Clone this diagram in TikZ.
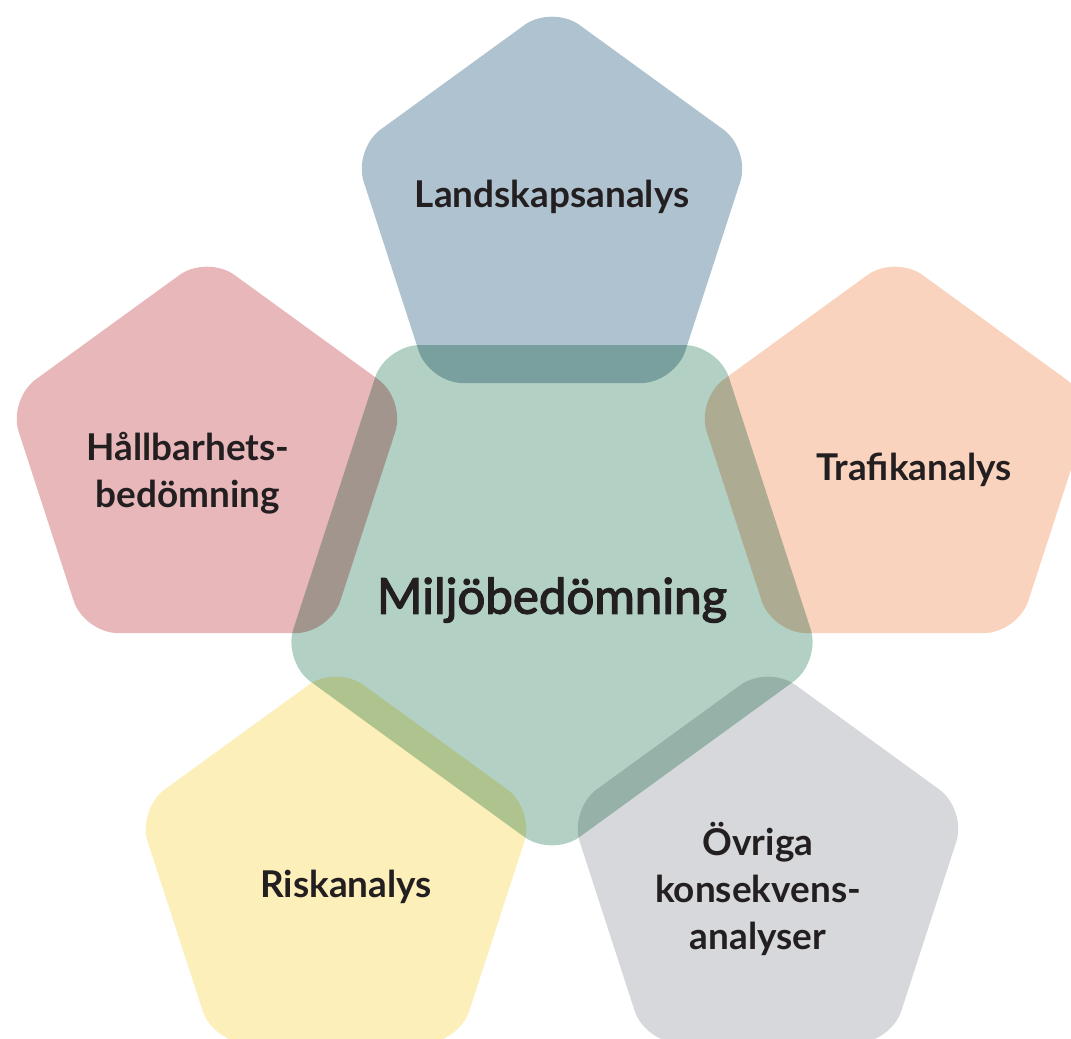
\documentclass[tikz,border=0pt]{standalone}
\usepackage{fontspec}
\setmainfont{Lato}
\newfontfamily\miljofont[FakeBold=2.6]{Lato}
\usetikzlibrary{shapes.geometric}
\definecolor{landblue}{HTML}{AFC2D0}
\definecolor{hallred}{HTML}{E8B7BA}
\definecolor{trafikorange}{HTML}{F9D3BE}
\definecolor{riskyellow}{HTML}{FCEFBA}
\definecolor{ovriggray}{HTML}{D6D8DB}
\definecolor{miljogreen}{HTML}{B2D1C4}
\definecolor{textdark}{HTML}{231F20}

\begin{document}
\begin{tikzpicture}[
    penta/.style={regular polygon, regular polygon sides=5, inner sep=0pt,
      minimum size=4.18cm, rounded corners=0.34cm},
    rubrik/.style={font=\bfseries\fontsize{10.5}{13.4}\selectfont, text=textdark, align=center}
  ]
  \useasboundingbox (-5.52,-4.64) rectangle (5.19,5.74);
  \clip (-5.52,-4.64) rectangle (5.19,5.74);
  \fill[white] (-5.52,-4.64) rectangle (5.19,5.74);

  \begin{scope}[blend mode=multiply]
    \node[penta,fill=landblue] (land) at (0,3.60) {};
    \node[penta,fill=hallred] (hall) at (-3.45,1.10) {};
    \node[penta,fill=trafikorange] (trafik) at (3.43,1.10) {};
    \node[penta,fill=riskyellow] (risk) at (-2.16,-3.00) {};
    \node[penta,fill=ovriggray] (ovrig) at (2.16,-3.00) {};
    \node[penta,fill=miljogreen,minimum size=5.66cm,shape border rotate=180] (miljo) at (0,0) {};
  \end{scope}

  \node[rubrik] (landtxt) at ([yshift=0.17cm]land.center) {Landskapsanalys};
  \node[rubrik] (halltxt) at ([xshift=-0.19cm,yshift=-0.09cm]hall.center) {Hållbarhets-\\bedömning};
  \node[rubrik] (trafiktxt) at ([xshift=0.19cm,yshift=-0.06cm]trafik.center) {Trafikanalys};
  \node[rubrik] (risktxt) at ([xshift=0.10cm,yshift=-0.13cm]risk.center) {Riskanalys};
  \node[rubrik] (ovrigtxt) at ([xshift=-0.10cm,yshift=-0.15cm]ovrig.center) {Övriga\\konsekvens-\\analyser};
  \node[font=\miljofont\fontsize{14}{16}\selectfont, text=textdark] (miljotxt) at ([yshift=-0.26cm]miljo.center) {Miljöbedömning};
\end{tikzpicture}
\end{document}
